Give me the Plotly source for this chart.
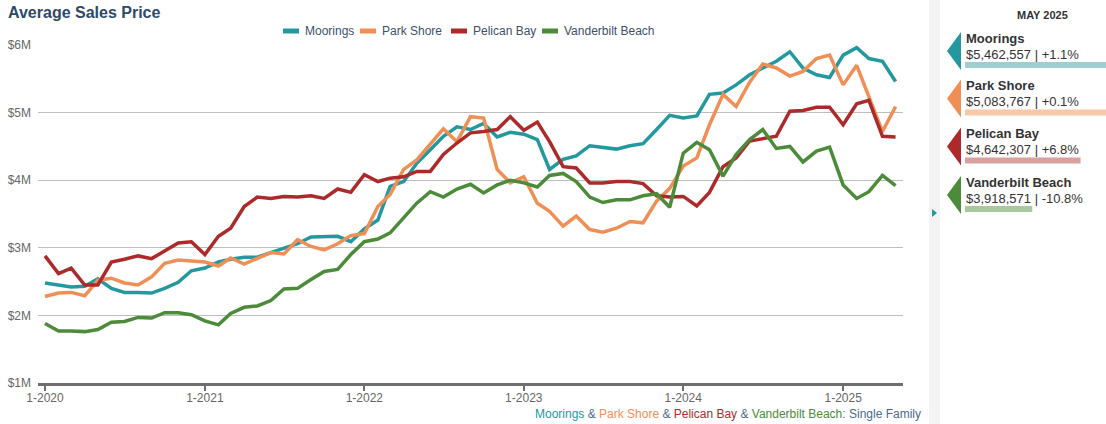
import plotly.graph_objects as go
import pandas as pd

# ---------------- data (values in $ millions) ----------------
months = pd.date_range("2020-01-01", periods=65, freq="MS")

series_names = ["Moorings", "Park Shore", "Pelican Bay", "Vanderbilt Beach"]
series_colors = ["#23999f", "#f08f55", "#ac2a2a", "#4b8b39"]
bar_colors = ["#9dcfd1", "#f9c7aa", "#d9a0a0", "#aac89d"]

moorings = [2.48, 2.45, 2.42, 2.43, 2.54, 2.40, 2.34, 2.34, 2.33, 2.40, 2.49, 2.66,
            2.70, 2.79, 2.83, 2.86, 2.86, 2.93, 3.00, 3.06, 3.16, 3.17, 3.17, 3.09,
            3.28, 3.41, 3.91, 3.98, 4.25, 4.45, 4.65, 4.79, 4.75, 4.84, 4.64, 4.71,
            4.68, 4.60, 4.16, 4.31, 4.36, 4.51, 4.49, 4.46, 4.51, 4.54, 4.75, 4.96,
            4.92, 4.95, 5.27, 5.29, 5.41, 5.56, 5.66, 5.76, 5.90, 5.66, 5.56, 5.52,
            5.85, 5.96, 5.80, 5.76, 5.46]
park_shore = [2.28, 2.33, 2.34, 2.29, 2.52, 2.55, 2.48, 2.45, 2.57, 2.77, 2.82, 2.81,
              2.79, 2.73, 2.85, 2.76, 2.85, 2.93, 2.91, 3.12, 3.02, 2.97, 3.06, 3.18,
              3.21, 3.61, 3.79, 4.16, 4.30, 4.53, 4.76, 4.57, 4.94, 4.92, 4.16, 3.96,
              4.05, 3.66, 3.54, 3.32, 3.47, 3.27, 3.23, 3.29, 3.39, 3.37, 3.69, 3.88,
              4.21, 4.33, 4.82, 5.27, 5.09, 5.45, 5.72, 5.66, 5.54, 5.61, 5.80, 5.85,
              5.41, 5.70, 5.22, 4.72, 5.09]
pelican_bay = [2.88, 2.62, 2.70, 2.45, 2.45, 2.79, 2.83, 2.88, 2.84, 2.96, 3.07, 3.09,
               2.90, 3.17, 3.29, 3.61, 3.75, 3.73, 3.76, 3.75, 3.77, 3.73, 3.87, 3.82,
               4.08, 3.98, 4.03, 4.05, 4.13, 4.13, 4.38, 4.55, 4.70, 4.72, 4.75, 4.94,
               4.74, 4.86, 4.57, 4.20, 4.18, 3.96, 3.96, 3.98, 3.98, 3.95, 3.77, 3.75,
               3.76, 3.62, 3.82, 4.20, 4.33, 4.58, 4.61, 4.65, 5.02, 5.03, 5.08, 5.08,
               4.82, 5.13, 5.18, 4.65, 4.64]
vanderbilt = [1.88, 1.77, 1.77, 1.76, 1.79, 1.90, 1.91, 1.97, 1.96, 2.04, 2.04, 2.01,
              1.92, 1.86, 2.03, 2.12, 2.14, 2.22, 2.39, 2.40, 2.53, 2.65, 2.68, 2.90,
              3.09, 3.13, 3.22, 3.45, 3.66, 3.83, 3.75, 3.87, 3.94, 3.81, 3.93, 4.00,
              3.96, 3.90, 4.07, 4.10, 3.98, 3.75, 3.67, 3.71, 3.71, 3.77, 3.80, 3.60,
              4.40, 4.56, 4.45, 4.06, 4.38, 4.60, 4.75, 4.47, 4.50, 4.27, 4.43, 4.49,
              3.93, 3.73, 3.83, 4.07, 3.92]
series_values = [moorings, park_shore, pelican_bay, vanderbilt]

x_tick_dates = ["2020-01-01", "2021-01-01", "2022-01-01", "2023-01-01", "2024-01-01", "2025-01-01"]
x_tick_labels = ["1-2020", "1-2021", "1-2022", "1-2023", "1-2024", "1-2025"]
y_tick_vals = [1, 2, 3, 4, 5, 6]
y_tick_labels = ["$1M", "$2M", "$3M", "$4M", "$5M", "$6M"]

panel_month = "MAY 2025"
panel_prices = [5462557, 5083767, 4642307, 3918571]
panel_changes = [1.1, 0.1, 6.8, -10.8]

# ---------------- layout helpers (pixel -> paper) ----------------
FIG_W, FIG_H = 1106, 424
L, R, T, B = 38, 903, 45, 383
W, H = R - L, B - T


def px(x):
    return (x - L) / W


def py(y):
    return (B - y) / H


FONT = "Liberation Sans, Arial, Helvetica, sans-serif"

fig = go.Figure()
for name, vals, col in zip(series_names, series_values, series_colors):
    fig.add_trace(go.Scatter(x=months, y=vals, mode="lines", name=name,
                             line=dict(color=col, width=3.5), showlegend=False))

fig.update_layout(
    width=FIG_W, height=FIG_H,
    margin=dict(l=L, r=FIG_W - R, t=T, b=FIG_H - B),
    paper_bgcolor="white", plot_bgcolor="white",
    font=dict(family=FONT, size=12, color="#666666"),
    title=dict(text="<b>Average Sales Price</b>", xref="container", yref="container",
               x=8 / FIG_W, xanchor="left", y=1 - 12 / FIG_H, yanchor="middle",
               font=dict(size=16, color="#2d4a6b", family=FONT)),
    showlegend=False,
)

fig.update_xaxes(type="date", range=["2019-12-16", "2025-05-18"],
                 tickvals=x_tick_dates, ticktext=x_tick_labels,
                 showline=True, linecolor="#6e6e6e", linewidth=3,
                 ticks="outside", ticklen=5, tickwidth=2, tickcolor="#6e6e6e",
                 ticklabelstandoff=-3, automargin=False,
                 showgrid=False, zeroline=False,
                 tickfont=dict(size=12, color="#666666"))
fig.update_yaxes(range=[1, 6], tickvals=y_tick_vals, ticktext=y_tick_labels,
                 showgrid=True, gridcolor="#bdbdbd", gridwidth=1, zeroline=False,
                 showline=False, ticks="", ticklabelstandoff=6, automargin=False,
                 tickfont=dict(size=12, color="#666666"))

shapes = []
annotations = []

# custom legend (short thick swatches)
legend_swatch_x = [283, 360, 451, 542]
for i, name in enumerate(series_names):
    sx = legend_swatch_x[i]
    shapes.append(dict(type="rect", xref="paper", yref="paper",
                       x0=px(sx), x1=px(sx + 16), y0=py(33.5), y1=py(28.5),
                       fillcolor=series_colors[i], line=dict(width=0)))
    annotations.append(dict(text=name, xref="paper", yref="paper",
                            x=px(sx + 20), y=py(31), xanchor="left", yanchor="middle",
                            showarrow=False, font=dict(size=12, color="#3d5068")))

# scroll strip
shapes.append(dict(type="rect", xref="paper", yref="paper", x0=px(929), x1=px(940),
                   y0=py(0), y1=py(424), fillcolor="#f3f3f3", line=dict(width=0), layer="below"))
shapes.append(dict(type="path", xref="paper", yref="paper",
                   path=f"M {px(937)},{py(213)} L {px(932)},{py(209)} L {px(932)},{py(217)} Z",
                   fillcolor="#23999f", line=dict(width=0)))

# right panel
annotations.append(dict(text=f"<b>{panel_month}</b>", xref="paper", yref="paper",
                        x=px(1042), y=py(15), xanchor="center", yanchor="middle",
                        showarrow=False, font=dict(size=11, color="#333333")))
centers = [51, 98.5, 146.5, 195]
for i, (name, price, chg) in enumerate(zip(series_names, panel_prices, panel_changes)):
    c = centers[i]
    shapes.append(dict(type="path", xref="paper", yref="paper",
                       path=f"M {px(947)},{py(c)} L {px(961)},{py(c - 19)} L {px(961)},{py(c + 19)} Z",
                       fillcolor=series_colors[i], line=dict(width=0)))
    annotations.append(dict(text=f"<b>{name}</b>", xref="paper", yref="paper",
                            x=px(964), y=py(c - 13), xanchor="left", yanchor="middle",
                            showarrow=False, font=dict(size=13, color="#333333")))
    sign = "+" if chg >= 0 else ""
    annotations.append(dict(text=f"${price:,} | {sign}{chg:.1f}%", xref="paper", yref="paper",
                            x=px(964), y=py(c + 3), xanchor="left", yanchor="middle",
                            showarrow=False, font=dict(size=13, color="#333333")))
    bar_end = min(965 + (price / 1e6 - 2.91) * 66.7, 1110)
    shapes.append(dict(type="rect", xref="paper", yref="paper",
                       x0=px(965), x1=px(bar_end), y0=py(c + 17), y1=py(c + 11),
                       fillcolor=bar_colors[i], line=dict(width=0)))

# caption
cap_parts = []
for i, name in enumerate(series_names):
    if i > 0:
        cap_parts.append(" & ")
    cap_parts.append(f'<span style="color:{series_colors[i]}">{name}</span>')
cap_parts.append(": Single Family")
annotations.append(dict(text="".join(cap_parts), xref="paper", yref="paper",
                        x=px(923), y=py(414), xanchor="right", yanchor="middle",
                        showarrow=False, font=dict(size=12, color="#4a6a8c")))

fig.update_layout(shapes=shapes, annotations=annotations)
fig.write_html("out.html")
